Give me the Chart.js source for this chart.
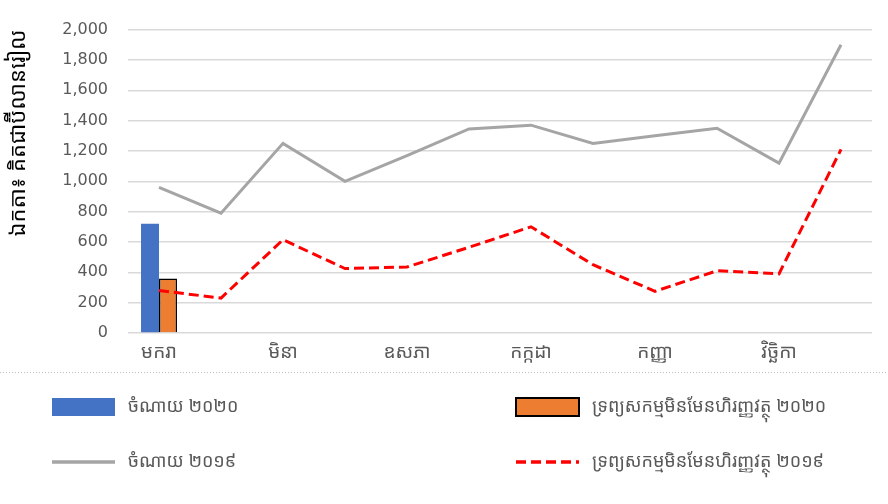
<!DOCTYPE html>
<html>
<head>
<meta charset="utf-8">
<script src="https://cdn.jsdelivr.net/npm/chart.js@4/dist/chart.umd.min.js"></script>
<style>
  html, body { margin: 0; padding: 0; background: #fff; }
  #wrap { width: 888px; height: 504px; position: relative; }
</style>
</head>
<body>
<div id="wrap"><canvas id="chart" width="888" height="504"></canvas></div>
<script>
// ខែ (categories)
var months = ["មករា", "កុម្ភៈ", "មិនា", "មេសា", "ឧសភា", "មិថុនា", "កក្កដា", "សីហា", "កញ្ញា", "តុលា", "វិច្ឆិកា", "ធ្នូ"];
var spend2020 = [720, null, null, null, null, null, null, null, null, null, null, null];
var assets2020 = [360, null, null, null, null, null, null, null, null, null, null, null];
var spend2019 = [960, 790, 1250, 1000, 1170, 1345, 1370, 1250, 1300, 1350, 1120, 1900];
var assets2019 = [280, 230, 615, 425, 435, 565, 700, 450, 275, 410, 390, 1210];
var yTicks = [0, 200, 400, 600, 800, 1000, 1200, 1400, 1600, 1800, 2000];

var khmerFont = "'Khmer OS', 'Noto Sans Khmer', 'Khmer OS System', 'DejaVu Sans', sans-serif";

// legend drawn under the chart, two columns like the original
var legendPlugin = {
    id: 'legendBelow',
    afterDraw: function(chart) {
        var ctx = chart.ctx;
        ctx.save();
        // dotted separator line
        ctx.strokeStyle = '#bfbfbf';
        ctx.lineWidth = 1;
        ctx.setLineDash([1, 2]);
        ctx.beginPath();
        ctx.moveTo(0, 372.5);
        ctx.lineTo(888, 372.5);
        ctx.stroke();
        ctx.setLineDash([]);

        var pos = [[52, 407], [516, 407], [52, 462], [516, 462]];
        chart.data.datasets.forEach(function(ds, i) {
            var x = pos[i][0], y = pos[i][1];
            if (ds.type === 'bar') {
                ctx.fillStyle = ds.backgroundColor;
                ctx.fillRect(x, y - 9, 63, 18);
                if (ds.borderWidth) {
                    ctx.strokeStyle = ds.borderColor;
                    ctx.lineWidth = 2;
                    ctx.strokeRect(x, y - 9, 63, 18);
                }
            } else {
                ctx.strokeStyle = ds.borderColor;
                ctx.lineWidth = 3.5;
                ctx.setLineDash(ds.borderDash || []);
                ctx.beginPath();
                ctx.moveTo(x, y);
                ctx.lineTo(x + 63, y);
                ctx.stroke();
                ctx.setLineDash([]);
            }
            ctx.fillStyle = '#595959';
            ctx.font = "18px " + khmerFont;
            ctx.textBaseline = 'middle';
            ctx.textAlign = 'left';
            ctx.fillText(ds.label, x + 76, y);
        });
        ctx.restore();
    }
};

var chart = new Chart(document.getElementById("chart"), {
    type: 'bar',
    data: {
        labels: months,
        datasets: [{
            type: 'bar',
            label: 'ចំណាយ ២០២០',
            data: spend2020,
            backgroundColor: '#4472c4',
            borderWidth: 0,
            categoryPercentage: 0.58,
            barPercentage: 1,
            order: 2
        }, {
            type: 'bar',
            label: 'ទ្រព្យសកម្មមិនមែនហិរញ្ញវត្ថុ ២០២០',
            data: assets2020,
            backgroundColor: '#ed7d31',
            borderColor: '#000000',
            borderWidth: 1.5,
            categoryPercentage: 0.58,
            barPercentage: 1,
            order: 2
        }, {
            type: 'line',
            label: 'ចំណាយ ២០១៩',
            data: spend2019,
            borderColor: '#a5a5a5',
            backgroundColor: '#a5a5a5',
            borderWidth: 3,
            pointRadius: 0,
            tension: 0,
            order: 1
        }, {
            type: 'line',
            label: 'ទ្រព្យសកម្មមិនមែនហិរញ្ញវត្ថុ ២០១៩',
            data: assets2019,
            borderColor: '#ff0000',
            backgroundColor: '#ff0000',
            borderWidth: 3,
            borderDash: [10, 5],
            pointRadius: 0,
            tension: 0,
            order: 0
        }]
    },
    options: {
        responsive: false,
        animation: false,
        layout: { padding: { top: 27, right: 16, left: 0, bottom: 0 } },
        plugins: {
            legend: { display: false },
            tooltip: { enabled: false }
        },
        scales: {
            x: {
                grid: { display: false, drawTicks: false },
                border: { display: false },
                ticks: {
                    autoSkip: false,
                    maxRotation: 0,
                    padding: 8,
                    color: '#595959',
                    font: { size: 19, family: khmerFont },
                    callback: function(v, i) { return i % 2 === 0 ? this.getLabelForValue(v) : ''; }
                },
                afterFit: function(scale) { scale.height = 504 - 333; }
            },
            y: {
                min: 0,
                max: 2000,
                afterBuildTicks: function(scale) {
                    scale.ticks = yTicks.map(function(v) { return { value: v }; });
                },
                grid: { color: '#d9d9d9', lineWidth: 1.5, drawTicks: false },
                border: { display: false },
                ticks: {
                    padding: 20,
                    color: '#595959',
                    font: { size: 16, family: "'DejaVu Sans', sans-serif" },
                    callback: function(v) { return v.toLocaleString('en-US'); }
                },
                title: {
                    display: true,
                    text: 'ឯកតា៖ គិតជាប៊ីលានរៀល',
                    align: 'end',
                    color: '#000000',
                    font: { size: 22, family: khmerFont },
                    padding: { top: 6, bottom: 0 }
                },
                afterFit: function(scale) { scale.width = 128; }
            }
        }
    },
    plugins: [legendPlugin]
});
</script>
</body>
</html>
